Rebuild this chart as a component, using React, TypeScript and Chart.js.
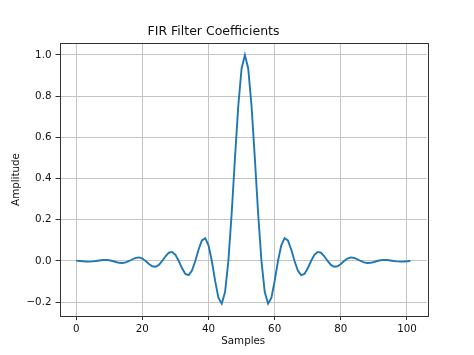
import React, { useEffect, useRef } from "react";
import { Chart, registerables } from "chart.js";

Chart.register(...registerables);

const TITLE = "FIR Filter Coefficients";
const X_LABEL = "Samples";
const Y_LABEL = "Amplitude";

// Filter taps h[0..101]
const COEFFS: number[] = [
  0.0015, 0, -0.0016, -0.0028, -0.003, -0.0021, 0, 0.0026, 0.0047, 0.0054,
  0.0038, 0, -0.0048, -0.0088, -0.0098, -0.0068, 0, 0.0085, 0.0154, 0.0171,
  0.0117, 0, -0.0142, -0.0254, -0.0279, -0.0189, 0, 0.0227, 0.0402, 0.0439,
  0.0297, 0, -0.0354, -0.0627, -0.0686, -0.0464, 0, 0.0561, 0.1002, 0.111,
  0.0764, 0, -0.0968, -0.1789, -0.2072, -0.1511, 0, 0.2306, 0.5006, 0.7542,
  0.9347, 1.0, 0.9347, 0.7542, 0.5006, 0.2306, 0, -0.1511, -0.2072, -0.1789,
  -0.0968, 0, 0.0764, 0.111, 0.1002, 0.0561, 0, -0.0464, -0.0686, -0.0627,
  -0.0354, 0, 0.0297, 0.0439, 0.0402, 0.0227, 0, -0.0189, -0.0279, -0.0254,
  -0.0142, 0, 0.0117, 0.0171, 0.0154, 0.0085, 0, -0.0068, -0.0098, -0.0088,
  -0.0048, 0, 0.0038, 0.0054, 0.0047, 0.0026, 0, -0.0021, -0.003, -0.0028,
  -0.0016, 0,
];

const X_TICKS = [0, 20, 40, 60, 80, 100];
const Y_TICKS = [-0.2, 0, 0.2, 0.4, 0.6, 0.8, 1.0];
const X_MIN = -5.05;
const X_MAX = 106.05;
const Y_MIN = -0.267;
const Y_MAX = 1.058;

const FONT = "'DejaVu Sans', sans-serif";
const TEXT = "#111111";
const GRID = "#c4c4c4";

const framePlugin = {
  id: "frame",
  afterDraw(chart: any) {
    const { ctx, chartArea } = chart;
    ctx.save();
    ctx.strokeStyle = "#333333";
    ctx.lineWidth = 1;
    ctx.strokeRect(
      Math.round(chartArea.left) + 0.5,
      Math.round(chartArea.top) + 0.5,
      Math.round(chartArea.right - chartArea.left),
      Math.round(chartArea.bottom - chartArea.top)
    );
    ctx.restore();
  },
};

export default function App() {
  const ref = useRef<HTMLCanvasElement | null>(null);

  useEffect(() => {
    document.body.style.margin = "0";
    const canvas = ref.current;
    if (!canvas) return;
    const points = COEFFS.map((y, i) => ({ x: i, y }));
    const chart = new Chart(canvas, {
      type: "line",
      data: {
        datasets: [
          {
            data: points,
            borderColor: "#1f77b4",
            borderWidth: 1.9,
            pointRadius: 0,
            tension: 0,
            fill: false,
          },
        ],
      },
      options: {
        responsive: false,
        animation: false,
        devicePixelRatio: 1,
        layout: { padding: { left: 0, right: 47, top: 0, bottom: 0 } },
        plugins: {
          legend: { display: false },
          tooltip: { enabled: false },
          title: {
            display: true,
            text: TITLE,
            color: TEXT,
            font: { family: FONT, size: 12.5, weight: "normal" },
            padding: { top: 24, bottom: 4 },
          },
        },
        scales: {
          x: {
            type: "linear",
            min: X_MIN,
            max: X_MAX,
            afterBuildTicks: (scale: any) => {
              scale.ticks = X_TICKS.map((v) => ({ value: v }));
            },
            afterFit: (scale: any) => {
              scale.height = 39;
            },
            ticks: {
              color: TEXT,
              font: { family: FONT, size: 10.3 },
              padding: 3,
              maxRotation: 0,
              callback: (v: any) => String(v),
            },
            grid: {
              color: GRID,
              lineWidth: 1,
              tickColor: "#333333",
              tickLength: 4,
              tickWidth: 1,
            },
            border: { display: false },
            title: {
              display: true,
              text: X_LABEL,
              color: TEXT,
              font: { family: FONT, size: 10.3 },
              padding: { top: 0, bottom: 7 },
            },
          },
          y: {
            type: "linear",
            min: Y_MIN,
            max: Y_MAX,
            afterBuildTicks: (scale: any) => {
              scale.ticks = Y_TICKS.map((v) => ({ value: v }));
            },
            afterFit: (scale: any) => {
              scale.width = 59.5;
            },
            ticks: {
              color: TEXT,
              font: { family: FONT, size: 10.3 },
              padding: 4,
              callback: (v: any) => {
                const s = Number(v).toFixed(1);
                return s.startsWith("-") ? "\u2212" + s.slice(1) : s;
              },
            },
            grid: {
              color: GRID,
              lineWidth: 1,
              tickColor: "#333333",
              tickLength: 4,
              tickWidth: 1,
            },
            border: { display: false },
            title: {
              display: true,
              text: Y_LABEL,
              color: TEXT,
              font: { family: FONT, size: 10.3 },
              padding: { top: 10.5, bottom: 0 },
            },
          },
        },
      },
      plugins: [framePlugin],
    } as any);
    return () => chart.destroy();
  }, []);

  return (
    <div style={{ width: 474, height: 355, background: "#fff" }}>
      <canvas ref={ref} width={474} height={355} />
    </div>
  );
}
